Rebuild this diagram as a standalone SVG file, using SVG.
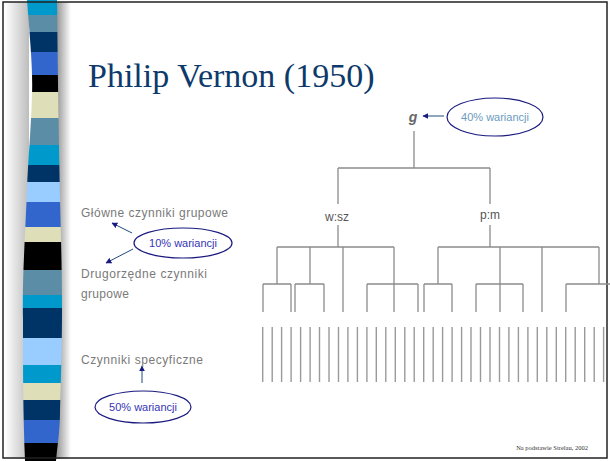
<svg xmlns="http://www.w3.org/2000/svg" width="610" height="461" viewBox="0 0 610 461">
<defs>
<style>
.tree{fill:none;stroke:#8c8c8c;stroke-width:1.3}
.spec{fill:none;stroke:#9a9a9a;stroke-width:1.4}
.lbl{font-family:"Liberation Sans",Arial,sans-serif;font-size:12px;fill:#7a7a7a}
.node{font-family:"Liberation Sans",Arial,sans-serif;font-size:12px;fill:#555}
.call{fill:#fff;stroke:#1a1a80;stroke-width:1.2}
.ctext{font-family:"Liberation Sans",Arial,sans-serif;font-size:11px;text-anchor:middle}
.arr{stroke:#1f4a80;stroke-width:1;fill:none;marker-end:url(#ah)}
</style>
<marker id="ah" viewBox="0 0 10 10" refX="9" refY="5" markerWidth="6" markerHeight="6" orient="auto" markerUnits="userSpaceOnUse">
<path d="M0,0 L10,5 L0,10 z" fill="#1a1a80"/>
</marker>
<linearGradient id="lsh" x1="0" y1="0" x2="1" y2="0">
<stop offset="0" stop-color="#ffffff"/>
<stop offset="1" stop-color="#bdbdbd"/>
</linearGradient>
<linearGradient id="rsh" x1="0" y1="0" x2="1" y2="0">
<stop offset="0" stop-color="#8a8a8a"/>
<stop offset="1" stop-color="#ffffff"/>
</linearGradient>
<clipPath id="bar">
<path d="M27,0 C30,40 33,70 32,95 C31,130 28,160 27,190 C25,240 22,280 23,320 C23,370 23,410 25,461 L56,461 C58,440 60,430 60,410 C61,380 62,340 62,310 C62,270 61,240 60,200 C59,150 58,100 57,0 Z"/>
</clipPath>
</defs>
<rect x="0" y="0" width="610" height="461" fill="#fff"/>
<g id="sidebar">
<rect x="5" y="2" width="24" height="457" fill="url(#lsh)"/>
<rect x="55" y="2" width="16" height="457" fill="url(#rsh)"/>
<g clip-path="url(#bar)">
<rect x="0" y="0" width="80" height="15" fill="#0099cc"/>
<rect x="0" y="15" width="80" height="17" fill="#5b8ea6"/>
<rect x="0" y="32" width="80" height="20" fill="#003366"/>
<rect x="0" y="52" width="80" height="23" fill="#3366cc"/>
<rect x="0" y="75" width="80" height="17" fill="#000000"/>
<rect x="0" y="92" width="80" height="26" fill="#dedfb9"/>
<rect x="0" y="118" width="80" height="27" fill="#5b8ea6"/>
<rect x="0" y="145" width="80" height="20" fill="#0099cc"/>
<rect x="0" y="165" width="80" height="17" fill="#003366"/>
<rect x="0" y="182" width="80" height="20" fill="#99ccff"/>
<rect x="0" y="202" width="80" height="25" fill="#3366cc"/>
<rect x="0" y="227" width="80" height="15" fill="#dedfb9"/>
<rect x="0" y="242" width="80" height="28" fill="#000000"/>
<rect x="0" y="270" width="80" height="25" fill="#5b8ea6"/>
<rect x="0" y="295" width="80" height="13" fill="#0099cc"/>
<rect x="0" y="308" width="80" height="30" fill="#003366"/>
<rect x="0" y="338" width="80" height="27" fill="#99ccff"/>
<rect x="0" y="365" width="80" height="18" fill="#0099cc"/>
<rect x="0" y="383" width="80" height="17" fill="#dedfb9"/>
<rect x="0" y="400" width="80" height="20" fill="#003366"/>
<rect x="0" y="420" width="80" height="23" fill="#3366cc"/>
<rect x="0" y="443" width="80" height="18" fill="#000000"/>
</g>
</g>
<rect x="3" y="2" width="604" height="456" fill="none" stroke="#222" stroke-width="1.5"/>
<g id="title">
<text x="88" y="87" font-family="Liberation Serif,'Times New Roman',serif" font-size="34" fill="#0d3a6b">Philip Vernon (1950)</text>
</g>
<g id="connectors">
<path class="tree" d="M414 131 V168 M338 168 H490 M338 168 V204 M490 168 V204
M338 225 V247 M277 247 H394 M277 247 V284 M310 247 V284 M343 247 V312 M394 247 V312
M263 284 H291 M263 284 V312 M291 284 V312
M295 284 H324 M295 284 V312 M324 284 V312
M367 284 H418 M367 284 V312 M418 284 V312
M490 225 V247 M438 247 H599 M438 247 V284 M500 247 V312 M542 247 V312 M599 247 V284
M424 284 H452 M424 284 V312 M452 284 V312
M476 284 H523 M476 284 V312 M523 284 V312
M566 284 H610 M566 284 V312"/>
<path class="spec" d="M262.7 327V382M272.2 327V382M281.6 327V382M291.1 327V382M300.6 327V382M310.1 327V382M319.5 327V382M329 327V382M338.5 327V382M347.9 327V382M357.4 327V382M366.9 327V382M376.3 327V382M385.8 327V382M395.3 327V382M404.8 327V382M414.2 327V382M423.7 327V382M433.2 327V382M442.6 327V382M452.1 327V382M461.6 327V382M471 327V382M480.5 327V382M490 327V382M499.5 327V382M508.9 327V382M518.4 327V382M527.9 327V382M537.3 327V382M546.8 327V382M556.3 327V382M565.7 327V382M575.2 327V382M584.7 327V382M594.2 327V382M603.6 327V382"/>
<line class="arr" x1="444" y1="116" x2="423" y2="116"/>
<line class="arr" x1="132" y1="233" x2="112" y2="223"/>
<line class="arr" x1="133" y1="249" x2="106" y2="263"/>
<line class="arr" x1="142" y1="383" x2="142" y2="366"/>
</g>
<g id="node-g"><text x="413" y="122" text-anchor="middle" font-family="Liberation Sans,Arial,sans-serif" font-size="14" font-weight="bold" font-style="italic" fill="#666">g</text></g>
<g id="node-wsz"><text class="node" x="337" y="221" text-anchor="middle">w:sz</text></g>
<g id="node-pm"><text class="node" x="490" y="219" text-anchor="middle">p:m</text></g>
<g id="label-glowne"><text class="lbl" x="81" y="217" textLength="147">Główne czynniki grupowe</text></g>
<g id="label-drugorzedne"><text class="lbl" x="81" y="278" textLength="126">Drugorzędne czynniki</text><text class="lbl" x="81" y="298" textLength="48">grupowe</text></g>
<g id="label-specyficzne"><text class="lbl" x="81" y="364" textLength="122">Czynniki specyficzne</text></g>
<g id="callout-40"><ellipse class="call" cx="495" cy="117" rx="48" ry="19"/><text class="ctext" x="495" y="121" fill="#6b9cc0">40% wariancji</text></g>
<g id="callout-10"><ellipse class="call" cx="183" cy="243" rx="49" ry="15"/><text class="ctext" x="183" y="247" fill="#3535b5">10% wariancji</text></g>
<g id="callout-50"><ellipse class="call" cx="143" cy="407" rx="48" ry="16"/><text class="ctext" x="143" y="411" fill="#3535b5">50% wariancji</text></g>
<g id="footer"><text x="588" y="450" text-anchor="end" font-family="Liberation Serif,'Times New Roman',serif" font-size="6.5" fill="#333">Na podstawie Strelau, 2002</text></g>
</svg>
